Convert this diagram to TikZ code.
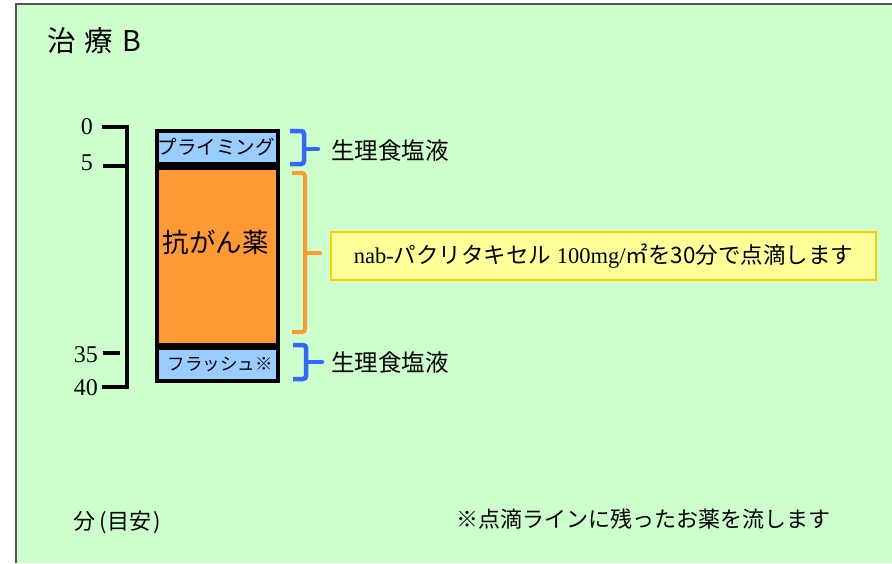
\documentclass[tikz,border=0pt]{standalone}
\usepackage{fontspec}
\setmainfont{Liberation Serif}
\newfontfamily\jp{Noto Sans CJK JP}
\definecolor{bggreen}{HTML}{CCFFCC}
\definecolor{frame}{HTML}{555555}
\definecolor{lblue}{HTML}{99CCFF}
\definecolor{dorange}{HTML}{FF9933}
\definecolor{bblue}{HTML}{3366FF}
\definecolor{lyellow}{HTML}{FFFF99}
\definecolor{gold}{HTML}{FFCC00}
\begin{document}
\begin{tikzpicture}[x=1pt,y=-1pt,
  stagebox/.style={draw=black,line width=3.5pt,inner sep=0pt,anchor=north west},
  brk/.style={line width=4.5pt,rounded corners=3pt},
  axisline/.style={line width=3.5pt,black},
  ticklbl/.style={font=\fontsize{24}{26}\selectfont,anchor=east,inner sep=0pt},
  jplbl/.style={font=\jp\fontsize{23.5}{26}\selectfont,inner sep=0pt}]
\useasboundingbox (0,0) rectangle (892,563);
\fill[white] (0,0) rectangle (892,563);
\fill[bggreen] (16,4) rectangle (892,563);
\draw[frame,line width=2pt] (16,563) -- (16,4) -- (892,4);
% title
\node[jplbl,font=\jp\fontsize{28.5}{32}\selectfont,anchor=west] (title) at (47,41) {治\hspace{9pt}療\hspace{9pt}B};
% axis
\coordinate (a0) at (127,127);
\coordinate (a40) at (127,387);
\draw[axisline] (102,127) -- (a0) -- (a40) -- (102,387);
\draw[axisline] (103,166) -- (127,166);
\draw[axisline] (103,353) -- (120,353);
\node[ticklbl] (t0) at (93,127) {0};
\node[ticklbl] (t5) at (93,163) {5};
\node[ticklbl] (t35) at (98,355) {35};
\node[ticklbl] (t40) at (98,388) {40};
% stage boxes
\node[stagebox,fill=lblue,minimum width=121pt,minimum height=33pt] (prime) at (155,129) {};
\node[jplbl,font=\jp\fontsize{19.5}{22}\selectfont] at ([xshift=-1pt]prime.center) {プライミング};
\node[stagebox,fill=dorange,minimum width=121pt,minimum height=177pt] (drug) at (155,166) {};
\node[jplbl,font=\jp\fontsize{26.5}{30}\selectfont] (drugtxt) at (215.5,242) {抗がん薬};
\node[stagebox,fill=lblue,minimum width=121pt,minimum height=33pt] (flush) at (155,346) {};
\node[jplbl,font=\jp\fontsize{17.5}{20}\selectfont] at ([xshift=3pt]flush.center) {フラッシュ※};
% brackets
\draw[brk,bblue] (290,131) -- (304,131) -- (304,164) -- (290,164);
\coordinate (n1) at (318,149);
\draw[bblue,line width=4.5pt,line cap=round] (304,149) -- (n1);
\node[jplbl,anchor=west] (saline1) at (331,151) {生理食塩液};
\draw[brk,dorange,line width=4pt] (292,173) -- (305,173) -- (305,332) -- (292,332);
\coordinate (n2) at (320,253);
\draw[dorange,line width=4pt,line cap=round] (305,253) -- (n2);
\node[draw=gold,line width=2pt,fill=lyellow,minimum width=545pt,minimum height=48pt,inner sep=0pt,anchor=west,font=\fontsize{22.5}{26}\selectfont] (note) at (330,256)
  {nab-{\jp パクリタキセル} 100mg/{\jp ㎡を30分で点滴します}};
\draw[brk,bblue] (293,345) -- (306,345) -- (306,379) -- (293,379);
\coordinate (n3) at (322,362);
\draw[bblue,line width=4.5pt,line cap=round] (306,362) -- (n3);
\node[jplbl,anchor=west] (saline2) at (331,363) {生理食塩液};
% footer
\node[jplbl,font=\jp\fontsize{22}{26}\selectfont,anchor=west] (unit) at (73,522) {分\hspace{4pt}(\hspace{1pt}目安\hspace{2pt})};
\node[jplbl,font=\jp\fontsize{22}{26}\selectfont,anchor=west] (foot) at (456,519) {※点滴ラインに残ったお薬を流します};
\end{tikzpicture}
\end{document}
